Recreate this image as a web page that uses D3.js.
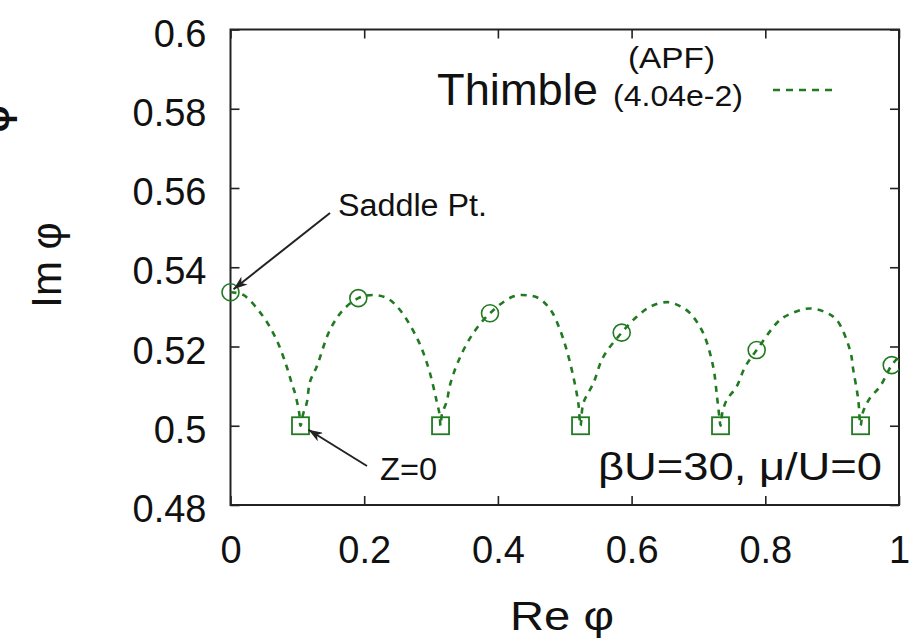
<!DOCTYPE html>
<html><head><meta charset="utf-8">
<script src="https://cdn.jsdelivr.net/npm/d3@7"></script>
<style>
html,body{margin:0;padding:0;background:#fff;}
svg{display:block;}
text{font-family:"Liberation Sans",Arial,Helvetica,sans-serif;fill:#111;}
</style></head>
<body>
<script>
// ---- data ----
const xTicks = [0, 0.2, 0.4, 0.6, 0.8, 1];
const xTickLabels = ["0", "0.2", "0.4", "0.6", "0.8", "1"];
const yTicks = [0.48, 0.5, 0.52, 0.54, 0.56, 0.58, 0.6];
const yTickLabels = ["0.48", "0.5", "0.52", "0.54", "0.56", "0.58", "0.6"];

// thimble (dashed curve)
const thimbleRe = [0, 0.0192, 0.0491, 0.0691, 0.0841, 0.0916, 0.0965, 0.1029, 0.1047,
  0.1089, 0.1140, 0.1189, 0.1289, 0.1488, 0.1683, 0.1912, 0.2132, 0.2341, 0.2536, 0.2805, 0.2954, 0.3034, 0.3085, 0.3126, 0.3142,
  0.3164, 0.3234, 0.3284, 0.3403, 0.3613, 0.3882, 0.4226, 0.4450, 0.4630, 0.4809, 0.4929, 0.5029, 0.5128, 0.5203, 0.5236,
  0.5278, 0.5427, 0.5577, 0.5852, 0.6076, 0.6275, 0.6525, 0.6724, 0.6874, 0.7068, 0.7218, 0.7278, 0.7312, 0.7330,
  0.7360, 0.7423, 0.7572, 0.7696, 0.7871, 0.8220, 0.8444, 0.8669, 0.8893, 0.9068, 0.9267, 0.9316, 0.9391, 0.9425,
  0.9462, 0.9566, 0.9716, 0.9891, 1.0];
const thimbleIm = [0.5337, 0.5330, 0.5275, 0.5216, 0.5149, 0.5107, 0.5082, 0.5031, 0.5000,
  0.5031, 0.5057, 0.5111, 0.5149, 0.5242, 0.5292, 0.5322, 0.5330, 0.5322, 0.5292, 0.5216, 0.5150, 0.5099, 0.5061, 0.5030, 0.5000,
  0.5030, 0.5061, 0.5103, 0.5161, 0.5229, 0.5284, 0.5326, 0.5329, 0.5320, 0.5287, 0.5242, 0.5191, 0.5124, 0.5057, 0.5000,
  0.5057, 0.5107, 0.5174, 0.5235, 0.5275, 0.5300, 0.5312, 0.5302, 0.5284, 0.5235, 0.5151, 0.5073, 0.5023, 0.5000,
  0.5035, 0.5065, 0.5099, 0.5148, 0.5191, 0.5267, 0.5287, 0.5296, 0.5287, 0.5267, 0.5191, 0.5141, 0.5065, 0.5000,
  0.5035, 0.5070, 0.5099, 0.5153, 0.5174];

// saddle points (circles)
const saddleRe = [0, 0.1912, 0.3882, 0.5852, 0.7871, 0.9891];
const saddleIm = [0.5337, 0.5322, 0.5284, 0.5235, 0.5191, 0.5153];
// Z=0 points (squares)
const zeroRe = [0.1047, 0.3142, 0.5236, 0.7330, 0.9425];
const zeroIm = [0.5, 0.5, 0.5, 0.5, 0.5];

// ---- drawing ----
const W = 919, H = 643;
const L = 230.5, R = 899, T = 29.5, B = 505;
const green = "#217a21";
const FONT = '"Liberation Sans",Arial,sans-serif';

const svg = d3.select("body").append("svg").attr("width", W).attr("height", H);
const x = d3.scaleLinear().domain([0, 1]).range([L, R]);
const y = d3.scaleLinear().domain([0.48, 0.6]).range([B, T]);

const defs = svg.append("defs");
defs.append("clipPath").attr("id", "clip")
  .append("rect").attr("x", L - 12).attr("y", T).attr("width", R - L + 12).attr("height", B - T);

// axes with inward ticks (mirrored)
const tickLen = 9;
const gB = svg.append("g").attr("transform", `translate(0,${B})`)
  .call(d3.axisBottom(x).tickValues(xTicks).tickSize(-tickLen).tickPadding(31).tickFormat((d, i) => xTickLabels[i]));
const gT = svg.append("g").attr("transform", `translate(0,${T})`)
  .call(d3.axisTop(x).tickValues(xTicks).tickSize(-tickLen).tickFormat(""));
const gL = svg.append("g").attr("transform", `translate(${L},0)`)
  .call(d3.axisLeft(y).tickValues(yTicks).tickSize(-tickLen).tickPadding(24).tickFormat((d, i) => yTickLabels[i]));
const gR = svg.append("g").attr("transform", `translate(${R},0)`)
  .call(d3.axisRight(y).tickValues(yTicks).tickSize(-tickLen).tickFormat(""));
[gB, gT, gL, gR].forEach(g => {
  g.select(".domain").remove();
  g.selectAll(".tick line").attr("stroke", "#222").attr("stroke-width", 1.6);
  g.selectAll("text").attr("font-size", 38).attr("font-family", FONT).attr("fill", "#111");
});
gB.selectAll("text").attr("dy", "0.71em");
gL.selectAll("text").attr("dy", "0.44em");

// frame
svg.append("rect").attr("x", L).attr("y", T).attr("width", R - L).attr("height", B - T)
  .attr("fill", "none").attr("stroke", "#222").attr("stroke-width", 2);

// axis titles
svg.append("text").attr("x", 510).attr("y", 630).attr("font-size", 41)
  .attr("textLength", 104).attr("lengthAdjust", "spacingAndGlyphs").text("Re φ");
svg.append("text").attr("transform", "translate(61,265) rotate(-90)").attr("text-anchor", "middle").attr("font-size", 42).text("Im φ");
// clipped glyph at far left (cut by the picture edge, as in the source)
svg.append("text").attr("transform", "translate(9,119) rotate(-90)").attr("text-anchor", "middle")
  .attr("font-size", 38).attr("font-weight", "bold").text("φ");

// thimble curve
const pts = thimbleRe.map((r, i) => [r, thimbleIm[i]]);
const line = d3.line().x(d => x(d[0])).y(d => y(d[1])).curve(d3.curveCatmullRom.alpha(0.5));
const plot = svg.append("g").attr("clip-path", "url(#clip)");
plot.append("path").attr("d", line(pts)).attr("fill", "none").attr("stroke", green)
  .attr("stroke-width", 2.6).attr("stroke-dasharray", "6,6");

// markers
plot.selectAll("circle.sad").data(saddleRe).join("circle").attr("class", "sad")
  .attr("cx", d => x(d)).attr("cy", (d, i) => y(saddleIm[i])).attr("r", 8.5)
  .attr("fill", "none").attr("stroke", green).attr("stroke-width", 1.6);
svg.selectAll("rect.z0").data(zeroRe).join("rect").attr("class", "z0")
  .attr("x", d => x(d) - 8.5).attr("y", (d, i) => y(zeroIm[i]) - 8.5).attr("width", 17).attr("height", 17)
  .attr("fill", "none").attr("stroke", green).attr("stroke-width", 1.8);

// legend
svg.append("text").attr("x", 628).attr("y", 68).attr("font-size", 29)
  .attr("textLength", 87).attr("lengthAdjust", "spacingAndGlyphs").text("(APF)");
svg.append("text").attr("x", 437).attr("y", 105).attr("font-size", 44)
  .attr("textLength", 161).attr("lengthAdjust", "spacingAndGlyphs").text("Thimble");
svg.append("text").attr("x", 613).attr("y", 106).attr("font-size", 29)
  .attr("textLength", 130).attr("lengthAdjust", "spacingAndGlyphs").text("(4.04e-2)");
svg.append("line").attr("x1", 773).attr("x2", 835).attr("y1", 90).attr("y2", 90)
  .attr("stroke", green).attr("stroke-width", 2.6).attr("stroke-dasharray", "7,6");

// annotations with arrows
defs.append("marker").attr("id", "arr").attr("viewBox", "0 0 14 10").attr("refX", 14).attr("refY", 5)
  .attr("markerWidth", 14).attr("markerHeight", 10).attr("markerUnits", "userSpaceOnUse").attr("orient", "auto")
  .append("path").attr("d", "M0,0 L14,5 L0,10 L4,5 Z").attr("fill", "#222");
svg.append("line").attr("x1", 330).attr("y1", 213).attr("x2", x(saddleRe[0]) + 3).attr("y2", y(saddleIm[0]) - 3)
  .attr("stroke", "#222").attr("stroke-width", 2).attr("marker-end", "url(#arr)");
svg.append("text").attr("x", 338).attr("y", 216).attr("font-size", 31)
  .attr("textLength", 149).attr("lengthAdjust", "spacingAndGlyphs").text("Saddle Pt.");
svg.append("line").attr("x1", 367).attr("y1", 466).attr("x2", x(zeroRe[0]) + 8).attr("y2", y(zeroIm[0]) + 4)
  .attr("stroke", "#222").attr("stroke-width", 2).attr("marker-end", "url(#arr)");
svg.append("text").attr("x", 380).attr("y", 480).attr("font-size", 31)
  .attr("textLength", 57).attr("lengthAdjust", "spacingAndGlyphs").text("Z=0");
svg.append("text").attr("x", 598).attr("y", 480).attr("font-size", 39)
  .attr("textLength", 284).attr("lengthAdjust", "spacingAndGlyphs").text("βU=30, μ/U=0");
</script>
</body></html>
